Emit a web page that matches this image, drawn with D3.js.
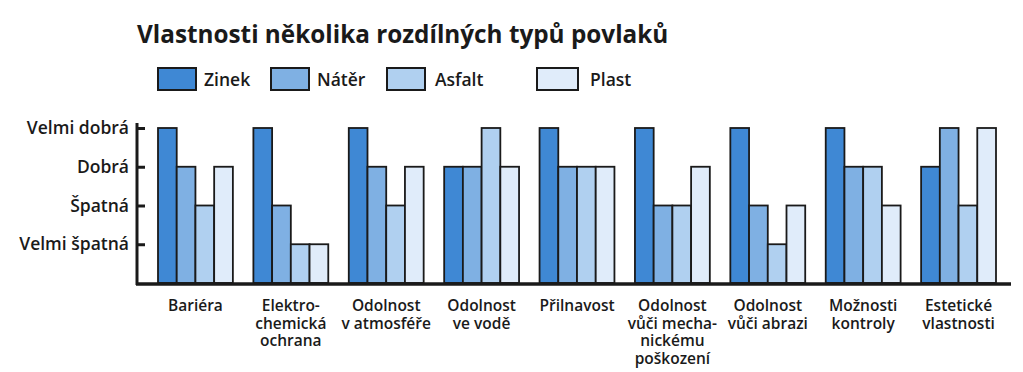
<!DOCTYPE html>
<html lang="cs">
<head>
<meta charset="utf-8">
<title>Vlastnosti povlaků</title>
<script src="https://d3js.org/d3.v7.min.js"></script>
<style>
    body { margin: 0; background: #fff; }
    svg text { font-family: "Open Sans", sans-serif; fill: #1a1a1a; }
    .title { font-size: 24.3px; font-weight: 700; }
    .legend text { font-size: 17.5px; font-weight: 600; }
    .ylab { font-size: 17.5px; font-weight: 600; }
    .xlab { font-size: 15.5px; font-weight: 600; }
    .bar { stroke: #1a1a1a; stroke-width: 1.8px; }
</style>
</head>
<body>
<script>
    var width = 1023,
        height = 372;

    // data
    var categories = [
        ["Bariéra"],
        ["Elektro-", "chemická", "ochrana"],
        ["Odolnost", "v atmosféře"],
        ["Odolnost", "ve vodě"],
        ["Přilnavost"],
        ["Odolnost", "vůči mecha-", "nickému", "poškození"],
        ["Odolnost", "vůči abrazi"],
        ["Možnosti", "kontroly"],
        ["Estetické", "vlastnosti"]
    ];
    var series = ["Zinek", "Nátěr", "Asfalt", "Plast"];
    var zinek  = [4, 4, 4, 3, 4, 4, 4, 4, 3];
    var nater  = [3, 2, 3, 3, 3, 2, 2, 3, 4];
    var asfalt = [2, 1, 2, 4, 3, 2, 1, 3, 2];
    var plast  = [3, 1, 3, 3, 3, 3, 2, 2, 4];
    var levels = ["Velmi špatná", "Špatná", "Dobrá", "Velmi dobrá"];

    var values = [zinek, nater, asfalt, plast];
    var colors = ["#3f88d4", "#7fb0e3", "#b0d0f0", "#e0ecfa"];

    var svg = d3.select("body").append("svg")
        .attr("width", width)
        .attr("height", height);

    // title
    svg.append("text")
        .attr("class", "title")
        .attr("x", 137)
        .attr("y", 43)
        .text("Vlastnosti několika rozdílných typů povlaků");

    // legend
    var legendX = [158, 271, 387, 537];
    var leg = svg.append("g").attr("class", "legend")
        .selectAll("g")
        .data(series)
        .enter().append("g")
        .attr("transform", function(d, i) { return "translate(" + legendX[i] + ",68)"; });
    leg.append("rect")
        .attr("width", function(d, i) { return i == 3 ? 41 : 38; })
        .attr("height", 22)
        .attr("fill", function(d, i) { return colors[i]; })
        .attr("stroke", "#1a1a1a")
        .attr("stroke-width", 2);
    leg.append("text")
        .attr("x", function(d, i) { return i == 3 ? 53 : (i == 2 ? 48 : 46); })
        .attr("y", 18)
        .text(function(d) { return d; });

    // scales
    var x0 = d3.scaleBand()
        .domain(d3.range(categories.length))
        .range([158, 996])
        .paddingInner(0.215)
        .paddingOuter(0);

    var x1 = d3.scaleBand()
        .domain(d3.range(series.length))
        .range([0, x0.bandwidth()]);

    var y = d3.scaleLinear()
        .domain([0, 4])
        .range([283, 128]);

    // bars
    var groups = svg.append("g")
        .selectAll("g")
        .data(categories)
        .enter().append("g")
        .attr("transform", function(d, i) { return "translate(" + x0(i) + ",0)"; });

    groups.selectAll("rect")
        .data(function(d, i) { return values.map(function(v, s) { return {s: s, v: v[i]}; }); })
        .enter().append("rect")
        .attr("class", "bar")
        .attr("x", function(d) { return x1(d.s); })
        .attr("width", x1.bandwidth())
        .attr("y", function(d) { return y(d.v); })
        .attr("height", function(d) { return y(0) - y(d.v); })
        .attr("fill", function(d) { return colors[d.s]; });

    // y axis
    var yAxis = d3.axisRight(y)
        .tickValues([1, 2, 3, 4])
        .tickSize(8)
        .tickFormat("");
    var ya = svg.append("g")
        .attr("transform", "translate(137,0)")
        .call(yAxis);
    ya.select(".domain").remove();
    ya.selectAll(".tick line").attr("stroke", "#1a1a1a").attr("stroke-width", 3);

    svg.append("line")
        .attr("x1", 137).attr("x2", 137)
        .attr("y1", 123).attr("y2", 285)
        .attr("stroke", "#1a1a1a")
        .attr("stroke-width", 3);

    svg.selectAll("text.ylab")
        .data(levels)
        .enter().append("text")
        .attr("class", "ylab")
        .attr("x", 129)
        .attr("y", function(d, i) { return y(i + 1) + 6; })
        .attr("text-anchor", "end")
        .text(function(d) { return d; });

    // x axis
    svg.append("line")
        .attr("x1", 136).attr("x2", 1011)
        .attr("y1", y(0) + 1).attr("y2", y(0) + 1)
        .attr("stroke", "#1a1a1a")
        .attr("stroke-width", 3.5);

    var xl = svg.selectAll("text.xlab")
        .data(categories)
        .enter().append("text")
        .attr("class", "xlab")
        .attr("text-anchor", "middle")
        .attr("transform", function(d, i) { return "translate(" + (x0(i) + x0.bandwidth() / 2) + ",311)"; });
    xl.selectAll("tspan")
        .data(function(d) { return d; })
        .enter().append("tspan")
        .attr("x", 0)
        .attr("y", function(d, i) { return i * 17.5; })
        .text(function(d) { return d; });
</script>
</body>
</html>
